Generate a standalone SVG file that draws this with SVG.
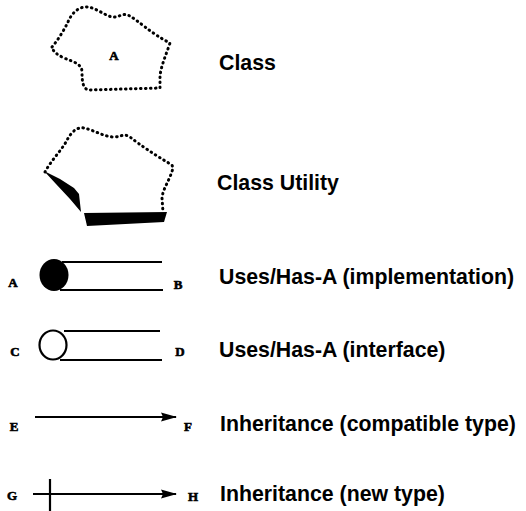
<svg xmlns="http://www.w3.org/2000/svg" width="526" height="511" viewBox="0 0 526 511">
  <style>
    .dots { fill: none; stroke: #000; stroke-width: 3; stroke-dasharray: 0.6 4.4; stroke-linecap: round; stroke-linejoin: round; }
    .line { fill: none; stroke: #000; stroke-width: 2.2; }
    .label { font-family: "Liberation Sans", Arial, sans-serif; font-weight: bold; font-size: 21.3px; fill: #000; }
    .tag { font-family: "Liberation Serif", "Times New Roman", serif; font-weight: bold; font-size: 13px; fill: #000; stroke: #000; stroke-width: 0.6; text-anchor: middle; }
  </style>
  <defs>
    <marker id="arrow" viewBox="0 0 16 10" refX="15" refY="5" markerWidth="16" markerHeight="10" markerUnits="userSpaceOnUse" orient="auto">
      <path d="M0,0.5 L16,5 L0,9.5 L2,5 Z" fill="#000"/>
    </marker>
  </defs>
  <rect width="526" height="511" fill="#fff"/>

  <!-- Class: dotted cloud -->
  <g id="class">
    <path class="dots" d="M52,47 C58,40 64,30 68,22 C72,12 80,6 88,7 C96,8 104,15 112,17 C118,18 122,13 128,15 C138,20 150,33 170,43 C166,55 161,66 160,76 L160,88 L88,90 C83,88 82,82 82,72 C82,64 74,62 64,58 C58,55 53,52 52,47 Z"/>
    <text class="tag" x="114" y="60">A</text>
    <text class="label" x="219" y="70">Class</text>
  </g>

  <!-- Class utility: cloud with shaded lower edges -->
  <g id="class-utility">
    <path class="dots" d="M45,172 C50,162 60,152 66,142 C72,130 78,127 84,128 C94,130 104,137 114,137 C120,137 124,133 130,137 C140,145 155,155 172,165 L173,168 C170,180 163,188 162,198 L163,212"/>
    <path d="M44,171 L60,179 L74,188 L79,194 L81,212 L70,199 L56,184 Z" fill="#000"/>
    <path d="M84,213 L167,212 L164,222 L87,226 Z" fill="#000"/>
    <text class="label" x="217" y="190">Class Utility</text>
  </g>

  <!-- Uses / Has-A (implementation) -->
  <g id="uses-implementation">
    <line class="line" x1="62" y1="262" x2="162" y2="262"/>
    <line class="line" x1="60" y1="290" x2="163" y2="290"/>
    <ellipse cx="54" cy="275" rx="14.5" ry="16" fill="#000"/>
    <text class="tag" x="13" y="287">A</text>
    <text class="tag" x="178" y="289">B</text>
    <text class="label" x="219" y="284">Uses/Has-A (implementation)</text>
  </g>

  <!-- Uses / Has-A (interface) -->
  <g id="uses-interface">
    <line class="line" x1="64" y1="331" x2="160" y2="331"/>
    <line class="line" x1="60" y1="360" x2="162" y2="360"/>
    <ellipse cx="53" cy="345" rx="13.5" ry="14.5" fill="#fff" stroke="#000" stroke-width="2.2"/>
    <text class="tag" x="15" y="356">C</text>
    <text class="tag" x="180" y="356">D</text>
    <text class="label" x="219" y="357">Uses/Has-A (interface)</text>
  </g>

  <!-- Inheritance arrows -->
  <g id="connectors">
    <line class="line" x1="35" y1="417" x2="176" y2="417" marker-end="url(#arrow)"/>
    <line class="line" x1="33" y1="494" x2="176" y2="494" marker-end="url(#arrow)"/>
    <line class="line" x1="50" y1="479" x2="50" y2="511"/>
  </g>

  <g id="inheritance-compatible">
    <text class="tag" x="14" y="431">E</text>
    <text class="tag" x="188" y="431">F</text>
    <text class="label" x="220" y="431">Inheritance (compatible type)</text>
  </g>

  <g id="inheritance-new">
    <text class="tag" x="12" y="500">G</text>
    <text class="tag" x="193" y="501">H</text>
    <text class="label" x="220" y="501">Inheritance (new type)</text>
  </g>
</svg>
